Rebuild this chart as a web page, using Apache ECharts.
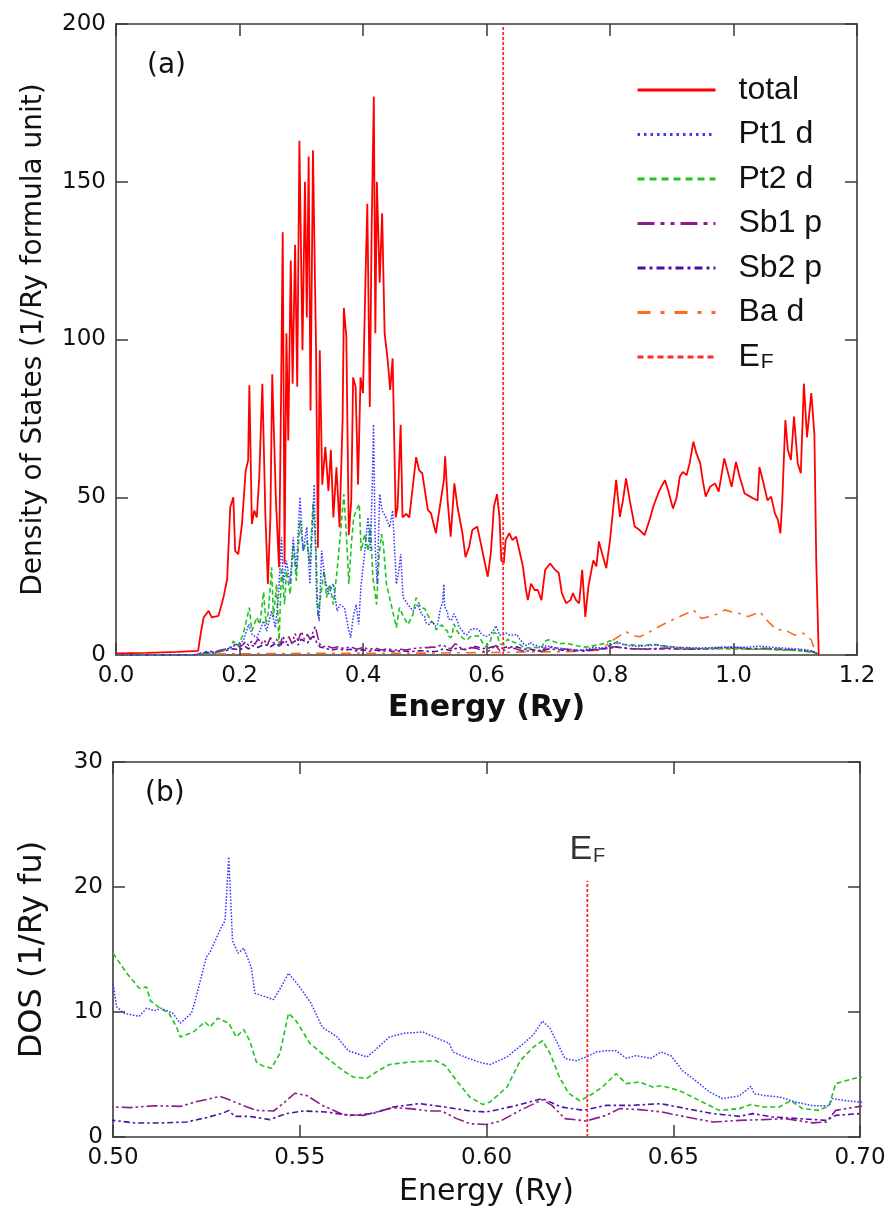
<!DOCTYPE html>
<html>
<head>
<meta charset="utf-8">
<script src="https://cdn.jsdelivr.net/npm/echarts@6/dist/echarts.min.js"></script>
<style>
  html, body { margin: 0; padding: 0; background: #fff; }
  #chart { width: 892px; height: 1218px; }
</style>
</head>
<body>
<div id="chart"></div>
<script>
// Fermi energy (Ry)
const EF = 0.627;
const EF_TOP_B = 20.5;

// Density of states, [energy (Ry), DOS (1/Ry formula unit)]
const total = [
  [0.000,0.5],[0.050,0.7],[0.100,1.0],[0.133,1.3],[0.137,6.6],[0.142,11.9],[0.150,14.0],[0.155,11.9],
  [0.166,12.4],[0.174,18.2],[0.180,24.0],[0.185,46.8],[0.190,50.0],[0.193,33.0],[0.198,32.0],[0.204,41.5],
  [0.210,58.5],[0.214,61.7],[0.216,85.5],[0.220,41.5],[0.224,45.8],[0.228,43.6],[0.232,56.4],[0.237,86.0],
  [0.242,43.6],[0.246,22.5],[0.250,43.6],[0.253,89.0],[0.259,49.0],[0.264,27.8],[0.267,76.5],[0.270,134.0],
  [0.273,28.8],[0.276,102.0],[0.279,68.0],[0.283,125.0],[0.286,86.0],[0.290,130.0],[0.2935,85.0],[0.297,163.0],
  [0.302,96.6],[0.306,150.0],[0.309,107.0],[0.312,158.0],[0.315,77.5],[0.319,160.0],[0.324,96.6],[0.327,34.0],
  [0.330,96.6],[0.334,54.0],[0.339,66.0],[0.344,52.0],[0.348,65.0],[0.352,43.6],[0.357,59.5],[0.362,40.5],
  [0.367,75.0],[0.369,110.0],[0.373,101.0],[0.377,38.0],[0.381,49.0],[0.384,88.0],[0.388,85.0],[0.392,54.0],
  [0.396,88.0],[0.400,83.0],[0.404,119.0],[0.407,143.0],[0.411,78.6],[0.414,135.0],[0.4175,177.0],[0.420,102.0],
  [0.4225,150.0],[0.427,118.0],[0.431,140.0],[0.435,102.0],[0.440,93.4],[0.444,84.0],[0.448,94.0],[0.453,43.6],
  [0.456,46.8],[0.461,73.0],[0.464,43.6],[0.470,44.7],[0.475,43.6],[0.481,54.0],[0.486,62.7],[0.491,58.5],
  [0.496,57.6],[0.505,46.0],[0.510,45.0],[0.518,38.6],[0.526,49.0],[0.531,55.5],[0.533,63.0],[0.537,49.0],
  [0.542,37.5],[0.548,54.4],[0.553,47.0],[0.561,38.6],[0.566,31.0],[0.572,34.4],[0.577,39.6],[0.585,40.7],
  [0.593,33.3],[0.602,24.8],[0.607,32.2],[0.612,47.0],[0.617,51.0],[0.621,43.8],[0.624,30.0],[0.628,29.0],
  [0.631,36.4],[0.637,38.6],[0.642,36.4],[0.648,37.5],[0.653,33.3],[0.659,28.0],[0.664,20.6],[0.667,17.4],
  [0.672,22.6],[0.678,20.6],[0.683,20.6],[0.689,17.4],[0.695,27.0],[0.703,29.0],[0.711,27.0],[0.717,26.0],
  [0.722,19.6],[0.729,16.4],[0.736,17.4],[0.740,19.6],[0.745,17.4],[0.750,16.4],[0.755,27.0],[0.760,12.1],
  [0.765,21.7],[0.773,30.0],[0.778,28.1],[0.782,36.0],[0.787,32.3],[0.794,27.5],[0.800,36.4],[0.805,46.0],
  [0.810,55.5],[0.816,43.8],[0.821,49.0],[0.826,56.0],[0.832,49.0],[0.840,40.7],[0.848,39.6],[0.856,38.0],
  [0.864,42.8],[0.870,47.0],[0.878,51.2],[0.883,53.3],[0.889,55.4],[0.894,52.3],[0.902,46.4],[0.908,50.0],
  [0.913,56.5],[0.918,58.0],[0.924,57.0],[0.929,60.8],[0.935,67.6],[0.940,63.9],[0.946,60.8],[0.951,54.4],
  [0.955,50.2],[0.962,53.3],[0.970,54.4],[0.976,51.8],[0.981,57.5],[0.985,62.3],[0.990,58.6],[0.997,53.3],
  [1.004,61.2],[1.010,56.5],[1.018,51.2],[1.027,50.2],[1.032,49.6],[1.039,49.0],[1.042,59.6],[1.048,54.9],
  [1.055,49.0],[1.061,50.2],[1.067,44.9],[1.072,42.8],[1.076,38.6],[1.079,49.0],[1.084,74.5],[1.088,65.0],
  [1.093,61.8],[1.098,75.6],[1.104,60.8],[1.109,57.6],[1.114,86.0],[1.119,69.0],[1.126,83.0],[1.131,70.0],
  [1.134,30.0],[1.138,0.0]
];

const pt1d = [
  [0.000,0.0],[0.130,0.1],[0.137,0.3],[0.158,0.7],[0.180,1.8],[0.196,3.4],[0.206,4.4],[0.215,9.7],
  [0.220,6.6],[0.228,5.5],[0.233,7.6],[0.239,10.8],[0.244,7.6],[0.252,14.0],[0.258,8.7],[0.263,18.2],
  [0.268,37.3],[0.271,22.5],[0.276,29.9],[0.282,22.5],[0.287,37.3],[0.292,26.7],[0.298,50.0],[0.303,33.0],
  [0.309,40.5],[0.314,22.5],[0.321,54.0],[0.325,17.0],[0.329,10.8],[0.333,33.0],[0.338,24.6],[0.344,19.3],
  [0.352,22.5],[0.358,14.0],[0.363,16.0],[0.370,15.0],[0.376,8.7],[0.380,5.5],[0.384,11.9],[0.389,16.0],
  [0.393,9.7],[0.397,22.5],[0.403,33.0],[0.408,43.6],[0.412,33.0],[0.415,54.0],[0.417,73.0],[0.420,33.0],
  [0.423,22.5],[0.427,51.0],[0.431,45.8],[0.437,43.6],[0.443,40.5],[0.448,45.8],[0.454,22.5],[0.458,26.7],
  [0.461,32.0],[0.465,18.2],[0.473,16.0],[0.481,14.0],[0.489,16.0],[0.495,12.8],
  [0.500,12.3],[0.501,10.4],[0.503,9.9],[0.507,9.65],[0.509,10.3],[0.511,10.1],[0.513,10.3],[0.516,9.9],
  [0.518,9.1],[0.521,9.9],[0.522,10.9],[0.525,14.4],[0.526,14.8],[0.529,16.8],[0.530,17.3],[0.531,22.4],
  [0.5315,22.4],[0.532,15.7],[0.5335,14.7],[0.535,15.1],[0.537,13.6],[0.538,11.5],[0.540,11.3],[0.543,11.0],
  [0.545,12.0],[0.547,13.1],[0.550,12.0],[0.553,10.7],[0.556,8.8],[0.560,8.0],[0.563,6.9],[0.568,6.4],
  [0.570,6.9],[0.574,8.0],[0.578,8.3],[0.583,8.4],[0.586,8.0],[0.590,7.5],[0.591,6.8],[0.595,6.3],
  [0.599,5.9],[0.601,5.8],[0.6055,6.4],[0.610,7.5],[0.6126,8.2],[0.615,9.27],[0.617,8.7],[0.6195,7.2],
  [0.621,6.27],[0.624,6.1],[0.6267,6.4],[0.6294,6.8],[0.632,6.9],[0.6347,6.9],[0.6374,6.3],[0.640,6.5],
  [0.644,6.3],[0.6467,6.8],[0.6494,6.5],[0.6525,5.3],[0.656,4.5],[0.6597,3.6],[0.6632,3.07],[0.6677,3.3],
  [0.6695,3.73],[0.6708,4.05],[0.6717,3.47],[0.6748,3.3],[0.6784,3.2],[0.6828,2.8],[0.6873,2.5],[0.6917,2.5],
  [0.6926,3.07],[0.6962,2.9],[0.700,2.8],
  [0.705,2.6],[0.715,2.2],[0.725,2.0],[0.735,1.8],[0.745,1.6],[0.755,1.5],[0.765,2.0],[0.775,2.4],
  [0.785,2.2],[0.795,2.6],[0.805,3.5],[0.812,4.2],[0.820,3.4],[0.830,3.0],[0.845,2.7],[0.860,3.0],
  [0.875,3.2],[0.890,2.8],[0.905,2.5],[0.920,2.4],[0.940,2.2],[0.960,2.3],[0.980,2.5],[1.000,2.6],
  [1.020,2.4],[1.040,2.8],[1.060,2.5],[1.080,2.2],[1.100,2.0],[1.120,1.6],[1.132,1.0],[1.138,0.0]
];

const pt2d = [
  [0.000,0.0],[0.130,0.1],[0.158,0.5],[0.174,1.3],[0.185,2.3],[0.190,4.4],[0.198,2.9],[0.206,6.6],
  [0.216,15.0],[0.220,7.6],[0.228,11.9],[0.233,9.7],[0.239,20.0],[0.243,9.7],[0.247,14.0],[0.252,27.8],
  [0.255,11.9],[0.260,22.5],[0.264,3.4],[0.268,27.8],[0.273,16.0],[0.276,26.7],[0.282,19.3],[0.287,35.0],
  [0.292,23.5],[0.298,42.6],[0.303,33.0],[0.309,36.2],[0.314,28.8],[0.319,47.9],[0.324,33.0],[0.327,11.9],
  [0.331,18.2],[0.337,26.7],[0.341,18.2],[0.346,22.5],[0.352,16.0],[0.358,26.7],[0.363,37.3],[0.369,51.0],
  [0.373,38.3],[0.377,22.5],[0.381,35.0],[0.385,43.6],[0.389,45.8],[0.394,47.9],[0.397,33.0],[0.403,38.3],
  [0.408,33.0],[0.412,41.5],[0.416,24.6],[0.422,16.0],[0.426,31.0],[0.430,38.3],[0.433,35.0],[0.438,22.5],
  [0.443,18.2],[0.448,14.0],[0.454,8.7],[0.459,15.0],[0.466,11.9],[0.473,9.7],[0.481,12.9],[0.486,18.2],
  [0.494,15.0],
  [0.500,14.7],[0.5037,13.1],[0.507,11.9],[0.509,12.0],[0.510,10.9],[0.5126,10.3],[0.515,9.9],[0.517,8.8],
  [0.518,8.0],[0.5215,8.4],[0.5246,9.2],[0.526,8.8],[0.528,9.5],[0.531,9.1],[0.533,8.0],[0.535,8.6],
  [0.5366,7.7],[0.5384,6.0],[0.540,5.7],[0.5424,5.5],[0.5447,6.7],[0.547,9.9],[0.549,9.3],[0.5527,7.5],
  [0.557,6.4],[0.5616,5.3],[0.5643,4.8],[0.568,4.7],[0.5705,5.2],[0.574,5.8],[0.5794,6.0],[0.5865,6.1],
  [0.589,5.7],[0.592,4.5],[0.5955,3.2],[0.599,2.6],[0.601,2.8],[0.6055,4.0],[0.609,6.1],[0.6126,7.2],
  [0.615,7.7],[0.617,6.7],[0.6195,4.8],[0.622,3.5],[0.625,2.9],[0.6276,3.3],[0.631,4.0],[0.6347,5.06],
  [0.6374,4.27],[0.641,4.4],[0.6445,4.0],[0.647,4.1],[0.6517,3.7],[0.656,3.07],[0.6623,2.13],[0.6677,2.27],
  [0.6708,2.6],[0.674,2.4],[0.6784,2.4],[0.6815,2.9],[0.6846,2.27],[0.689,2.13],[0.6917,2.5],[0.6935,4.27],
  [0.6962,4.5],[0.700,4.8],
  [0.705,4.6],[0.712,4.0],[0.720,3.6],[0.730,3.8],[0.740,3.2],[0.750,2.8],[0.760,2.5],[0.770,2.8],
  [0.780,3.2],[0.790,3.6],[0.800,4.5],[0.810,3.8],[0.820,3.4],[0.835,3.2],[0.850,3.0],[0.870,3.4],
  [0.890,2.8],[0.910,2.4],[0.930,2.2],[0.950,2.0],[0.970,2.1],[0.990,1.9],[1.010,2.0],[1.030,1.8],
  [1.050,1.9],[1.070,1.6],[1.090,1.5],[1.110,1.3],[1.130,0.8],[1.138,0.0]
];

const sb1p = [
  [0.000,0.0],[0.130,0.1],[0.140,0.8],[0.150,1.2],[0.160,1.0],[0.170,1.6],[0.180,2.0],[0.190,2.8],
  [0.195,3.8],[0.200,2.5],[0.205,3.2],[0.210,4.2],[0.215,3.0],[0.220,4.5],[0.225,3.4],[0.230,5.2],
  [0.235,3.6],[0.240,4.8],[0.245,3.0],[0.250,5.5],[0.255,3.8],[0.260,5.0],[0.265,2.8],[0.270,6.0],
  [0.275,4.0],[0.280,5.8],[0.285,3.6],[0.290,6.8],[0.295,4.5],[0.300,7.5],[0.305,5.0],[0.310,6.5],
  [0.315,4.8],[0.320,8.0],[0.323,9.0],[0.327,5.5],[0.330,3.5],[0.335,2.5],[0.340,3.0],[0.350,2.2],
  [0.360,2.6],[0.370,2.0],[0.380,2.6],[0.390,1.8],[0.400,2.4],[0.410,1.8],[0.420,2.2],[0.430,1.6],
  [0.440,2.0],[0.450,1.5],[0.460,1.8],[0.470,1.6],[0.480,2.0],[0.490,2.2],
  [0.500,2.4],[0.5045,2.35],[0.511,2.5],[0.518,2.45],[0.522,2.8],[0.526,3.07],[0.5286,3.25],[0.531,3.0],
  [0.535,2.5],[0.5384,2.13],[0.543,2.08],[0.5455,2.67],[0.5487,3.5],[0.552,3.3],[0.5562,2.5],[0.5616,1.8],
  [0.567,1.73],[0.5705,2.0],[0.575,2.35],[0.5794,2.27],[0.5848,2.08],[0.588,2.08],[0.592,1.47],[0.5955,1.07],
  [0.600,1.0],[0.6037,1.27],[0.609,2.13],[0.615,2.99],[0.6175,2.53],[0.621,1.47],[0.6267,1.28],[0.632,1.73],
  [0.6356,2.27],[0.641,2.19],[0.647,2.0],[0.6535,1.6],[0.6606,1.2],[0.6677,1.33],[0.674,1.39],[0.680,1.47],
  [0.6873,1.13],[0.691,1.2],[0.6935,2.13],[0.700,2.45],
  [0.710,2.3],[0.720,2.0],[0.740,1.6],[0.760,1.5],[0.780,1.9],[0.800,2.4],[0.810,2.6],[0.830,2.1],
  [0.850,1.9],[0.870,2.0],[0.890,2.2],[0.910,2.0],[0.930,1.9],[0.950,2.0],[0.970,2.1],[0.990,2.4],
  [1.010,2.2],[1.030,2.0],[1.050,2.1],[1.070,1.9],[1.090,1.7],[1.110,1.5],[1.130,1.0],[1.138,0.0]
];

const sb2p = [
  [0.000,0.0],[0.130,0.1],[0.140,0.5],[0.150,0.9],[0.160,0.8],[0.170,1.2],[0.180,1.5],[0.190,2.0],
  [0.200,1.6],[0.210,2.6],[0.215,1.9],[0.220,3.0],[0.230,2.4],[0.240,3.4],[0.250,2.6],[0.260,3.8],
  [0.265,2.5],[0.270,4.2],[0.280,3.0],[0.290,4.5],[0.295,3.2],[0.300,5.0],[0.310,3.8],[0.315,5.2],
  [0.320,6.0],[0.325,4.0],[0.330,2.6],[0.340,2.0],[0.350,1.6],[0.360,2.0],[0.370,1.5],[0.380,1.8],
  [0.390,1.3],[0.400,1.7],[0.410,1.2],[0.420,1.6],[0.430,1.2],[0.440,1.4],[0.450,1.1],[0.460,1.3],
  [0.470,1.2],[0.480,1.1],[0.490,1.3],
  [0.500,1.33],[0.506,1.12],[0.5126,1.12],[0.5197,1.2],[0.525,1.55],[0.5295,1.92],[0.531,2.13],[0.5326,1.65],
  [0.5366,1.65],[0.542,1.39],[0.5464,1.87],[0.551,2.08],[0.557,2.0],[0.5634,1.73],[0.5696,1.87],[0.575,2.4],
  [0.582,2.67],[0.589,2.4],[0.5955,2.08],[0.600,2.0],[0.607,2.45],[0.615,3.07],[0.620,2.4],[0.626,2.13],
  [0.632,2.53],[0.639,2.53],[0.6467,2.67],[0.6535,2.27],[0.6606,1.87],[0.6677,1.65],[0.6713,1.87],[0.6766,1.6],
  [0.6837,1.47],[0.691,1.33],[0.6935,1.73],[0.700,1.87],
  [0.710,1.8],[0.720,1.6],[0.740,1.4],[0.760,1.3],[0.780,1.7],[0.800,2.2],[0.810,2.5],[0.830,2.0],
  [0.850,1.8],[0.870,1.9],[0.890,2.0],[0.910,1.9],[0.930,1.8],[0.950,1.9],[0.970,2.0],[0.990,2.2],
  [1.010,2.0],[1.030,1.9],[1.050,2.0],[1.070,1.8],[1.090,1.6],[1.110,1.4],[1.130,0.9],[1.138,0.0]
];

const bad = [
  [0.000,0.0],[0.130,0.05],[0.140,0.3],[0.200,0.4],[0.300,0.5],[0.400,0.5],[0.500,0.6],[0.600,0.8],
  [0.650,0.9],[0.700,1.0],[0.750,1.1],[0.780,1.5],[0.790,2.5],[0.805,4.75],[0.815,6.0],[0.826,7.4],
  [0.837,6.2],[0.848,5.8],[0.860,6.8],[0.870,8.0],[0.889,10.0],[0.900,11.0],[0.913,12.2],[0.925,13.2],
  [0.935,14.3],[0.948,11.6],[0.965,12.3],[0.976,13.2],[0.986,14.3],[0.997,13.6],[1.008,13.2],[1.024,12.2],
  [1.043,13.7],[1.056,10.6],[1.070,8.0],[1.083,8.0],[1.099,6.3],[1.113,6.9],[1.126,4.75],[1.134,0.0]
];

const C = {
  total: '#ff0000', pt1: '#3a3aff', pt2: '#1fc41f', sb1: '#8e1a8c',
  sb2: '#4a12a6', ba: '#ff6a1c', ef: '#ff2a2a', axis: '#3a3a3a', text: '#111'
};
const DASH = {
  pt1: [1.6, 1.6], pt2: [5, 3], sb1: [11, 3, 2.5, 3, 2.5, 3], sb2: [6, 3, 2.5, 3],
  ba: [10, 6, 3, 6], ef: [3, 2]
};

const tickFont = 'DejaVu Sans, sans-serif';
const nameFont = 'DejaVu Sans, sans-serif';
const legendFont = 'Liberation Sans, Arial, sans-serif';
const axisLine = { show: true, onZero: false, lineStyle: { color: C.axis, width: 1.6 } };
const tick = { show: true, inside: true, length: 12, lineStyle: { color: C.axis, width: 1.5 } };

function mainAxis(grid, min, max, interval, digits, extra) {
  return Object.assign({
    type: 'value', gridIndex: grid, min: min, max: max, interval: interval,
    axisLine: axisLine, axisTick: tick, splitLine: { show: false },
    axisLabel: {
      formatter: v => (digits ? v.toFixed(digits) : String(Math.round(v))),
      fontFamily: tickFont, fontSize: 23, color: C.text, margin: 10
    }
  }, extra);
}
function mirrorAxis(grid, min, max, interval, position) {
  return {
    type: 'value', gridIndex: grid, min: min, max: max, interval: interval, position: position,
    axisLine: axisLine, axisTick: tick, axisLabel: { show: false }, splitLine: { show: false }
  };
}

function lineSeries(name, data, color, width, dash, xi, z) {
  return {
    name: name, type: 'line', xAxisIndex: xi, yAxisIndex: xi, data: data,
    symbol: 'none', showSymbol: false, silent: true, z: z || 2,
    lineStyle: { color: color, width: width, type: dash || 'solid' },
    itemStyle: { color: color }
  };
}

const chart = echarts.init(document.getElementById('chart'), null, { renderer: 'canvas' });

const option = {
  animation: false,
  backgroundColor: '#fff',
  grid: [
    { left: 116, top: 24, width: 741, height: 631 },
    { left: 113, top: 762, width: 747, height: 375 }
  ],
  xAxis: [
    mainAxis(0, 0, 1.2, 0.2, 1, {
      position: 'bottom', name: 'Energy (Ry)', nameLocation: 'middle', nameGap: 23,
      nameTextStyle: { fontFamily: nameFont, fontWeight: 'bold', fontSize: 30, color: C.text }
    }),
    mirrorAxis(0, 0, 1.2, 0.2, 'top'),
    mainAxis(1, 0.5, 0.7, 0.05, 2, {
      position: 'bottom', name: 'Energy (Ry)', nameLocation: 'middle', nameGap: 40,
      nameTextStyle: { fontFamily: nameFont, fontSize: 30, color: C.text }
    }),
    mirrorAxis(1, 0.5, 0.7, 0.05, 'top')
  ],
  yAxis: [
    mainAxis(0, 0, 200, 50, 0, {
      position: 'left', name: 'Density of States (1/Ry formula unit)', nameLocation: 'middle',
      nameRotate: 90, nameGap: 68,
      nameTextStyle: { fontFamily: nameFont, fontSize: 28, color: C.text }
    }),
    mirrorAxis(0, 0, 200, 50, 'right'),
    mainAxis(1, 0, 30, 10, 0, {
      position: 'left', name: 'DOS (1/Ry fu)', nameLocation: 'middle',
      nameRotate: 90, nameGap: 64,
      nameTextStyle: { fontFamily: nameFont, fontSize: 32, color: C.text }
    }),
    mirrorAxis(1, 0, 30, 10, 'right')
  ],
  legend: {
    orient: 'vertical', left: 631, top: 69,
    itemWidth: 78, itemHeight: 16, itemGap: 12.5, selectedMode: false,
    itemStyle: { opacity: 0, borderWidth: 0 },
    textStyle: {
      fontFamily: legendFont, fontSize: 32, color: C.text,
      lineHeight: 32, padding: [0, 0, 0, 18],
      rich: {
        e: { fontFamily: legendFont, fontSize: 32, color: C.text, verticalAlign: 'bottom', lineHeight: 32 },
        f: { fontFamily: legendFont, fontSize: 21, color: C.text, verticalAlign: 'bottom', lineHeight: 32, padding: [0, 0, 0, 1] }
      }
    },
    formatter: name => (name === 'EF' ? '{e|E}{f|F}' : name),
    data: [
      { name: 'total', lineStyle: { width: 3 } },
      { name: 'Pt1 d', lineStyle: { width: 3, type: [2.5, 4] } },
      { name: 'Pt2 d', lineStyle: { width: 3, type: [7, 5] } },
      { name: 'Sb1 p', lineStyle: { width: 3, type: [17, 6, 4, 6, 4, 6] } },
      { name: 'Sb2 p', lineStyle: { width: 3, type: [8, 4, 3, 4] } },
      { name: 'Ba d', lineStyle: { width: 3, type: [13, 10, 4, 10] } },
      { name: 'EF', lineStyle: { width: 3, type: [6, 4] } }
    ]
  },
  graphic: [
    { type: 'text', left: 147, top: 52, style: { text: '(a)', font: '28px DejaVu Sans, sans-serif', fill: C.text } },
    { type: 'text', left: 145, top: 780, style: { text: '(b)', font: '28px DejaVu Sans, sans-serif', fill: C.text } }
  ],
  series: [
    // panel (a)
    lineSeries('Ba d', bad, C.ba, 1.6, DASH.ba, 0, 2),
    lineSeries('Sb2 p', sb2p, C.sb2, 1.6, DASH.sb2, 0, 3),
    lineSeries('Sb1 p', sb1p, C.sb1, 1.6, DASH.sb1, 0, 3),
    lineSeries('Pt2 d', pt2d, C.pt2, 1.6, DASH.pt2, 0, 4),
    lineSeries('Pt1 d', pt1d, C.pt1, 1.5, DASH.pt1, 0, 4),
    lineSeries('total', total, C.total, 1.8, 'solid', 0, 5),
    lineSeries('EF', [[EF, 0], [EF, 200]], C.ef, 1.8, DASH.ef, 0, 6),
    // panel (b): close-up around the Fermi level
    lineSeries('Sb2 p', sb2p, C.sb2, 1.6, DASH.sb2, 2, 3),
    lineSeries('Sb1 p', sb1p, C.sb1, 1.6, DASH.sb1, 2, 3),
    lineSeries('Pt2 d', pt2d, C.pt2, 1.6, DASH.pt2, 2, 4),
    lineSeries('Pt1 d', pt1d, C.pt1, 1.5, DASH.pt1, 2, 4),
    lineSeries('EF', [[EF, 0], [EF, EF_TOP_B]], C.ef, 1.8, DASH.ef, 2, 6),
    {
      name: 'EF label', type: 'scatter', xAxisIndex: 2, yAxisIndex: 2, silent: true,
      symbolSize: 1, itemStyle: { color: 'rgba(0,0,0,0)' },
      data: [[EF, EF_TOP_B]],
      label: {
        show: true, position: 'top', distance: 14,
        formatter: '{e|E}{f|F}',
        rich: {
          e: { fontFamily: legendFont, fontSize: 34, color: '#000', verticalAlign: 'bottom', lineHeight: 34 },
          f: { fontFamily: legendFont, fontSize: 20, color: '#000', verticalAlign: 'bottom', lineHeight: 34, padding: [0, 0, 0, 1] }
        }
      }
    }
  ]
};

chart.setOption(option);
</script>
</body>
</html>
